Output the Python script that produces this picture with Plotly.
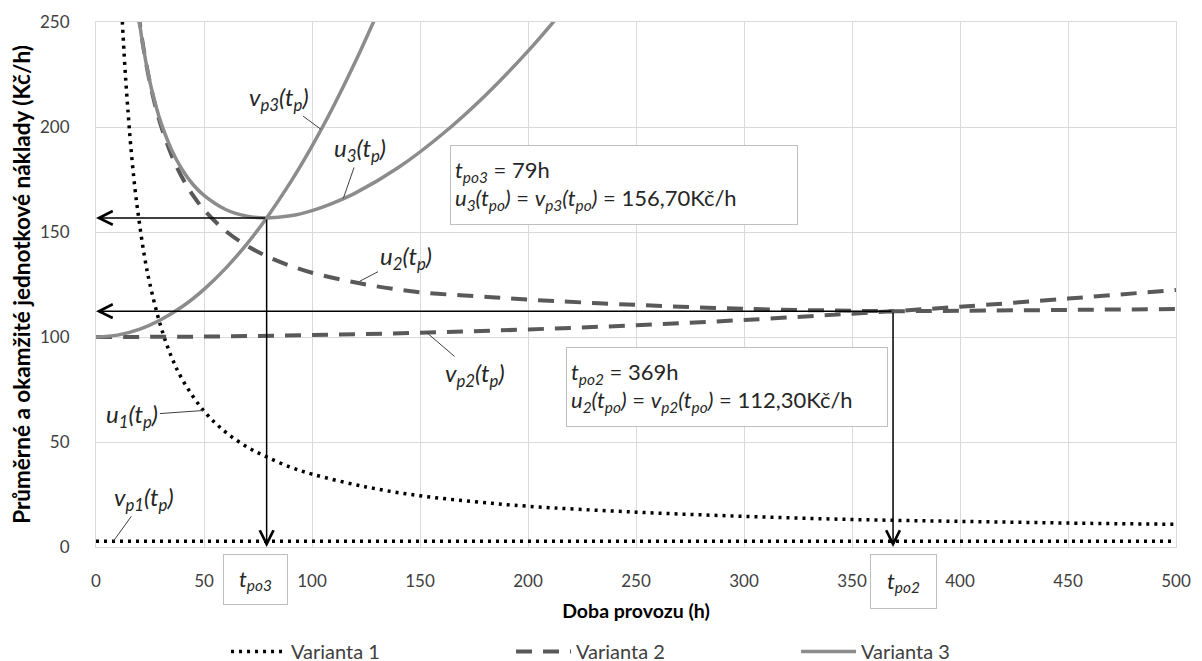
import plotly.graph_objects as go

# ---------------- data ----------------
# Varianta 1
t_v1 = [0, 500]
v1 = [2.7, 2.7]
t_u1 = [12, 13, 14, 15, 16, 18, 20, 22.5, 25, 30, 35, 40, 50, 60, 70, 79, 90, 100,
        125, 150, 175, 200, 250, 300, 350, 400, 450, 500]
u1 = [254, 235, 219, 205, 192, 171, 155, 138, 125, 105, 90.4, 79.7, 64.7, 54.7, 47.6,
      42.9, 38.0, 34.7, 28.6, 24.4, 21.6, 19.4, 16.6, 14.6, 13.1, 12.2, 11.4, 10.8]

# Varianta 2
t_v2 = [0, 50, 100, 150, 200, 250, 300, 350, 369, 400, 450, 500]
v2 = [100, 100.2, 100.9, 102.0, 103.6, 105.6, 108.1, 111.1, 112.3, 114.4, 118.3, 122.4]
t_u2 = [19.5, 20, 21, 22, 24, 26, 28, 30, 35, 40, 45, 50, 60, 70, 80, 90, 100, 125,
        150, 175, 200, 250, 300, 350, 369, 400, 450, 500]
u2 = [255.1, 251.3, 244.0, 237.5, 226.0, 216.3, 208.0, 200.9, 186.5, 175.7, 167.3,
      160.6, 150.5, 143.4, 138.0, 133.9, 130.6, 125.0, 121.3, 119.5, 117.8, 115.3,
      113.4, 112.5, 112.3, 112.5, 112.9, 113.3]

# Varianta 3
t_v3 = [0, 10, 20, 30, 40, 50, 60, 70, 79, 90, 100, 110, 120, 130]
v3 = [100, 100.9, 103.6, 108.2, 114.5, 122.7, 132.7, 144.5, 156.7, 173.6, 190.9,
      210.0, 230.9, 253.6]
t_u3 = [19.5, 20, 21, 22, 24, 26, 28, 30, 35, 40, 45, 50, 60, 70, 79, 90, 100, 110,
        120, 140, 160, 180, 200, 215]
u3 = [254.4, 250.6, 243.6, 237.3, 226.2, 216.9, 209.1, 202.3, 189.1, 179.5, 172.5,
      167.4, 160.7, 157.5, 156.7, 157.7, 160.2, 163.9, 168.5, 180.7, 196.3, 214.8,
      236.1, 254.0]

# optimum points
t_po3, u_po3 = 79, 156.70
t_po2, u_po2 = 369, 112.30

x_ticks = [0, 50, 100, 150, 200, 250, 300, 350, 400, 450, 500]
y_ticks = [0, 50, 100, 150, 200, 250]

series_names = ["Varianta 1", "Varianta 2", "Varianta 3"]

# ---------------- styles ----------------
FONT = "Lato"
c1, c2, c3 = "#000000", "#595959", "#8c8c8c"
st1 = dict(color=c1, width=3.5, dash="3px,5px", shape="spline")
st2 = dict(color=c2, width=4, dash="16px,11px", shape="spline")
st3 = dict(color=c3, width=3.5, shape="spline")

fig = go.Figure()
fig.add_trace(go.Scatter(x=t_u1, y=u1, mode="lines", line=st1, name=series_names[0],
                         legendgroup="1", showlegend=True))
fig.add_trace(go.Scatter(x=t_v1, y=v1, mode="lines", line=st1, name=series_names[0],
                         legendgroup="1", showlegend=False))
fig.add_trace(go.Scatter(x=t_u2, y=u2, mode="lines", line=st2, name=series_names[1],
                         legendgroup="2", showlegend=True))
fig.add_trace(go.Scatter(x=t_v2, y=v2, mode="lines", line=st2, name=series_names[1],
                         legendgroup="2", showlegend=False))
fig.add_trace(go.Scatter(x=t_u3, y=u3, mode="lines", line=st3, name=series_names[2],
                         legendgroup="3", showlegend=True))
fig.add_trace(go.Scatter(x=t_v3, y=v3, mode="lines", line=st3, name=series_names[2],
                         legendgroup="3", showlegend=False))

ann = []

# arrows from the optimum points to the axes
def arrow(x_from, y_from, x_to, y_to):
    ann.append(dict(x=x_to, y=y_to, ax=x_from, ay=y_from, xref="x", yref="y",
                    axref="x", ayref="y", text="", showarrow=True, arrowhead=5,
                    arrowsize=1.8, arrowwidth=1.5, arrowcolor="#000000", standoff=0))

arrow(t_po3, u_po3, 0, u_po3)
arrow(t_po3, u_po3, t_po3, 0)
arrow(t_po2, u_po2, 0, u_po2)
arrow(t_po2, u_po2, t_po2, 0)

# curve labels with leader lines
lab_font = dict(family=FONT, size=24, color="#262626")
def label(text, x, y, ax, ay):
    ann.append(dict(x=x, y=y, xref="x", yref="y", ax=ax, ay=ay, text=text,
                    showarrow=True, arrowhead=0, arrowwidth=1, arrowcolor="#404040",
                    font=lab_font, standoff=0))

label("<i>v<sub>p3</sub>(t<sub>p</sub>)</i>", 104, 199.0, -42, -31)
label("<i>u<sub>3</sub>(t<sub>p</sub>)</i>", 114.5, 166.0, 17, -49)
label("<i>u<sub>2</sub>(t<sub>p</sub>)</i>", 122, 126.5, 46, -24)
label("<i>v<sub>p2</sub>(t<sub>p</sub>)</i>", 153, 102.2, 49, 42)
label("<i>u<sub>1</sub>(t<sub>p</sub>)</i>", 49.7, 65.0, -71, 5)
label("<i>v<sub>p1</sub>(t<sub>p</sub>)</i>", 8, 2.7, 31, -43)

# info boxes
box_font = dict(family=FONT, size=22, color="#262626")
def box(text, x, y, w, h, pad, align="left"):
    ann.append(dict(x=x, y=y, xref="paper", yref="paper", xanchor="center",
                    yanchor="middle", showarrow=False, text=text, align=align,
                    width=w, height=h, borderpad=pad, bordercolor="#bfbfbf",
                    borderwidth=1, bgcolor="#ffffff", font=box_font))

box(("<i>t<sub>po3</sub></i> = %dh<br><i>u<sub>3</sub>(t<sub>po</sub>)</i> = "
     "<i>v<sub>p3</sub>(t<sub>po</sub>)</i> = %sKč/h") % (t_po3, f"{u_po3:.2f}".replace(".", ",")),
    0.489, 0.689, 338, 70, 4)
box(("<i>t<sub>po2</sub></i> = %dh<br><i>u<sub>2</sub>(t<sub>po</sub>)</i> = "
     "<i>v<sub>p2</sub>(t<sub>po</sub>)</i> = %sKč/h") % (t_po2, f"{u_po2:.2f}".replace(".", ",")),
    0.5844, 0.3057, 312, 70, 4)

# t_po boxes under the x axis
box("<i>t<sub>po3</sub></i>", 0.148, -0.0623, 57, 43, 3, "center")
box("<i>t<sub>po2</sub></i>", 0.748, -0.0648, 59, 47, 3, "center")

fig.update_layout(
    width=1202, height=661,
    margin=dict(l=88, r=34, t=14, b=122, autoexpand=False),
    paper_bgcolor="#ffffff", plot_bgcolor="#ffffff",
    font=dict(family=FONT, size=17, color="#404040"),
    annotations=ann,
    legend=dict(orientation="h", x=0.1204, y=-0.199, xanchor="left", yanchor="middle",
                entrywidth=215, entrywidthmode="pixels", itemwidth=55,
                font=dict(family=FONT, size=20, color="#404040"),
                bgcolor="rgba(0,0,0,0)"),
    xaxis=dict(range=[0, 500], tickvals=x_ticks, showgrid=True, gridcolor="#d9d9d9",
               gridwidth=1, zeroline=False, showline=True, linecolor="#d9d9d9",
               mirror=True, ticks="", ticklabelstandoff=19, automargin=False,
               tickfont=dict(family=FONT, size=17, color="#404040"),
               title=dict(text="<b>Doba provozu (h)</b>", standoff=13,
                          font=dict(family=FONT, size=19.5, color="#000000"))),
    yaxis=dict(range=[0, 250], tickvals=y_ticks, showgrid=True, gridcolor="#d9d9d9",
               gridwidth=1, zeroline=False, showline=True, linecolor="#d9d9d9",
               mirror=True, ticks="", ticklabelstandoff=22, automargin=False,
               tickfont=dict(family=FONT, size=17, color="#404040"),
               title=dict(text="<b>Průměrné a okamžité jednotkové náklady (Kč/h)</b>",
                          standoff=3,
                          font=dict(family=FONT, size=22.5, color="#000000"))),
)

fig.write_html("out.html")
